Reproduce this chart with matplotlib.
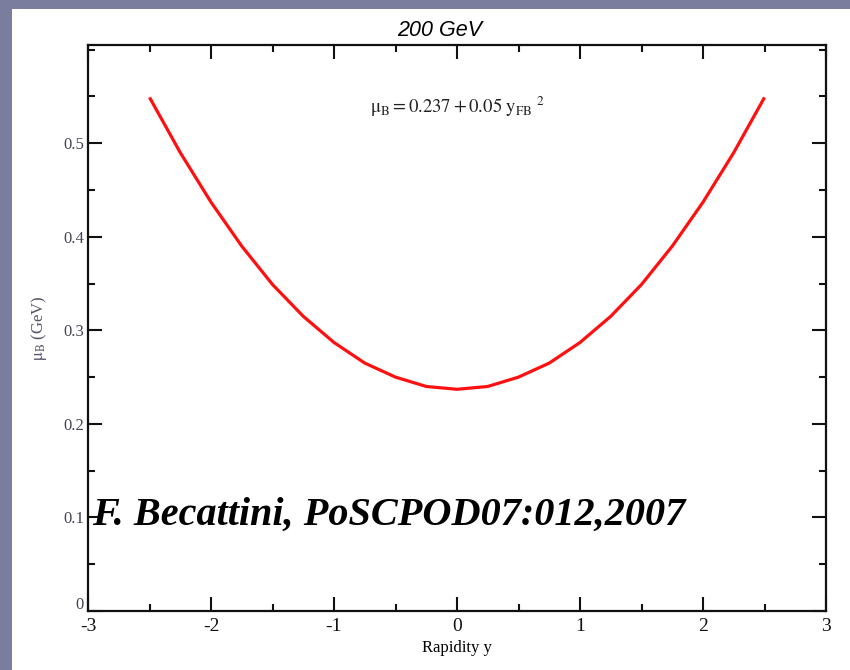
import matplotlib
matplotlib.use("Agg")
import matplotlib.pyplot as plt
import matplotlib.transforms as mtransforms
from matplotlib.patches import Rectangle
from matplotlib.ticker import MultipleLocator

plt.rcParams["mathtext.fontset"] = "stix"

# values (baryon chemical potential vs rapidity)
rapidity = [-2.5, -2.25, -2.0, -1.75, -1.5, -1.25, -1.0, -0.75, -0.5, -0.25,
            0.0, 0.25, 0.5, 0.75, 1.0, 1.25, 1.5, 1.75, 2.0, 2.25, 2.5]
mu_b = [0.549, 0.490, 0.437, 0.390, 0.349, 0.315, 0.287, 0.265, 0.250, 0.240,
        0.237, 0.240, 0.250, 0.265, 0.287, 0.315, 0.349, 0.390, 0.437, 0.490, 0.549]

x_ticks = [-3, -2, -1, 0, 1, 2, 3]
y_ticks = [0, 0.1, 0.2, 0.3, 0.4, 0.5]
y_tick_labels = ["0", "0.1", "0.2", "0.3", "0.4", "0.5"]

fig = plt.figure(figsize=(8.5, 6.7), dpi=100)
fig.patch.set_facecolor("#7b7d9e")
# white slide body inside the frame
fig.add_artist(Rectangle((12 / 850, 0), 1, 1 - 9 / 670, transform=fig.transFigure,
                         facecolor="white", edgecolor="none", zorder=0))

ax = fig.add_axes([88 / 850, 1 - 611 / 670, (826 - 88) / 850, (611 - 45) / 670])
ax.plot(rapidity, mu_b, color="#ff1010", lw=2.3, solid_capstyle="butt")

ax.set_xlim(-3, 3)
ax.set_ylim(0, 0.605)
ax.set_xticks(x_ticks)
ax.set_xticklabels([str(t) for t in x_ticks])
ax.set_yticks(y_ticks)
ax.set_yticklabels(y_tick_labels)
ax.xaxis.set_minor_locator(MultipleLocator(0.5))
ax.yaxis.set_minor_locator(MultipleLocator(0.05))
ax.tick_params(which="both", direction="in", top=True, right=True, width=1.5,
               colors="#111111", labelsize=12, pad=3)
ax.tick_params(axis="x", labelsize=14, pad=5)
ax.tick_params(which="major", length=10)
ax.tick_params(which="minor", length=5)
for lab in ax.get_xticklabels() + ax.get_yticklabels():
    lab.set_family("Liberation Serif")
for lab in ax.get_yticklabels():
    lab.set_color("#444455")
# nudge the "0" y label up, clear of the "-3" below it
zero_lab = ax.get_yticklabels()[0]
zero_lab.set_transform(zero_lab.get_transform()
                       + mtransforms.ScaledTranslation(0, 6 / 72, fig.dpi_scale_trans))
for s in ax.spines.values():
    s.set_linewidth(1.6)
    s.set_color("#111111")

ax.set_xlabel("Rapidity y", family="Liberation Serif", fontsize=12, labelpad=4)
ax.set_ylabel(r"$\mathrm{\mu_B}$ (GeV)", family="Liberation Serif", fontsize=12,
              color="#555566", labelpad=10)

fig.text(440 / 850, 1 - 30 / 670, "200 GeV", family="Liberation Sans", style="italic",
         fontsize=15.5, ha="center", va="center")

ax.text(0.5, 0.89, r"$\mathrm{\mu_B = 0.237 + 0.05\ y_{FB}}^{\ \mathrm{2}}$",
        transform=ax.transAxes, fontsize=13.5, ha="center", va="center",
        color="#222222")

ax.text(-2.97, 0.102, "F. Becattini, PoSCPOD07:012,2007", family="Liberation Serif",
        style="italic", weight="bold", fontsize=29, ha="left", va="center")

fig.savefig("out.png", dpi=100, facecolor=fig.get_facecolor())
